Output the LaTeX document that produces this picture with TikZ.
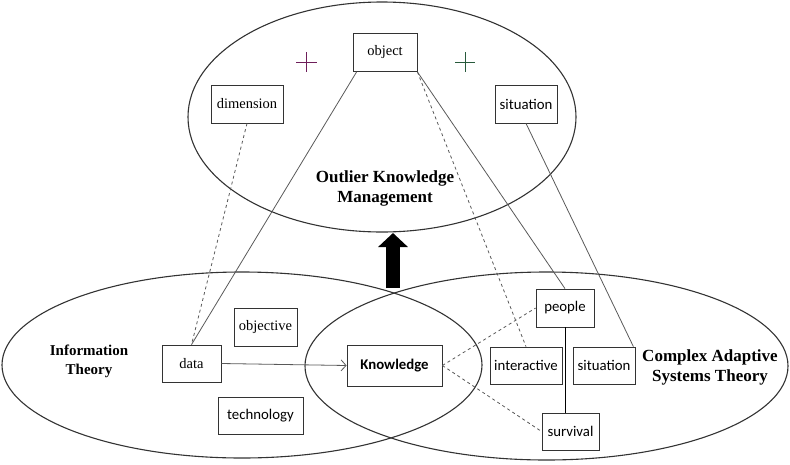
\documentclass[tikz,border=0pt]{standalone}
\usepackage{fontspec}
\setmainfont{Liberation Serif}
\newfontfamily\calfont{Carlito}
\usetikzlibrary{arrows.meta}
\begin{document}
\begin{tikzpicture}[x=1pt,y=-1pt,
bx/.style={draw=black!80, line width=0.8pt, minimum height=38pt, inner sep=0pt},
rmbx/.style={bx, font=\fontsize{14.5}{16}\selectfont},
sfbx/.style={bx, font=\calfont\fontsize{14.8}{16}\selectfont},
ttl/.style={align=center, font=\bfseries\fontsize{17}{20}\selectfont},
ov/.style={draw=black!80, line width=1.1pt},
ln/.style={draw=black!65, line width=0.8pt},
dl/.style={ln, dashed}]
%\draw[help lines] (0,0) grid[step=50] (790,464);
\useasboundingbox (0,0) rectangle (790,464);
% the three theories
\draw[ov] (382,117) ellipse [x radius=194, y radius=115];
\draw[ov] (242,365) ellipse [x radius=240, y radius=93];
\draw[ov] (546.5,366) ellipse [x radius=241.5, y radius=94];
% top
\node[rmbx, minimum width=64] (obj) at (385,52.5) {object};
\node[rmbx, minimum width=72] (dim) at (247,104) {dimension};
\node[sfbx, minimum width=62] (sitA) at (526,104) {situation};
\node[ttl] (okm) at (385,188) {Outlier Knowledge\\Management};
\draw[line width=1pt, draw={rgb,255:red,110;green,30;blue,90}] (296,62) -- (317,62) (306.5,52) -- (306.5,72);
\draw[line width=1pt, draw={rgb,255:red,40;green,90;blue,60}] (455,62) -- (475,62) (465,52) -- (465,72);
% bottom
\node[ttl, font=\bfseries\fontsize{15}{19}\selectfont] (it) at (89,361) {Information\\Theory};
\node[ttl] (cas) at (710,367) {Complex Adaptive\\Systems Theory};
\node[rmbx, minimum width=59, minimum height=37] (data) at (191.5,363.5) {data};
\node[rmbx, minimum width=63] (objv) at (265.5,327) {objective};
\node[sfbx, minimum width=85, minimum height=37] (tech) at (260.5,415.5) {technology};
\node[sfbx, minimum width=95, minimum height=41, font=\calfont\bfseries\fontsize{14.8}{16}\selectfont] (kn) at (394.5,365.5) {Knowledge};
\node[sfbx, minimum width=72, minimum height=37] (inter) at (526,365.5) {interactive};
\node[sfbx, minimum width=62, minimum height=37] (sitB) at (604,365.5) {situation};
\node[sfbx, minimum width=58] (ppl) at (565,308) {people};
\node[sfbx, minimum width=57, minimum height=37] (surv) at (570.5,431.5) {survival};
% links
\draw[ln, -{Straight Barb[length=5pt,width=11pt]}] (data.east) -- (kn.west);
\draw[ln] ([xshift=4pt]obj.south west) -- (data.north);
\draw[dl] (dim.south) -- (data.north);
\draw[ln] (obj.south east) -- (ppl.north);
\draw[dl] (obj.south east) -- (inter.north);
\draw[ln] (sitA.south) -- ([xshift=-2pt]sitB.north east);
\draw[line width=0.8pt] (ppl.south) -- (surv.north -| ppl.south);
\draw[dl] (kn.east) -- (ppl.west);
\draw[dl] (kn.east) -- (surv.west);
% big arrow
\coordinate (up0) at (393,288);
\coordinate (up1) at (393,233);
\draw[line width=14pt, -{Triangle[length=14pt,width=29pt]}] (up0) -- (up1);
\end{tikzpicture}
\end{document}
